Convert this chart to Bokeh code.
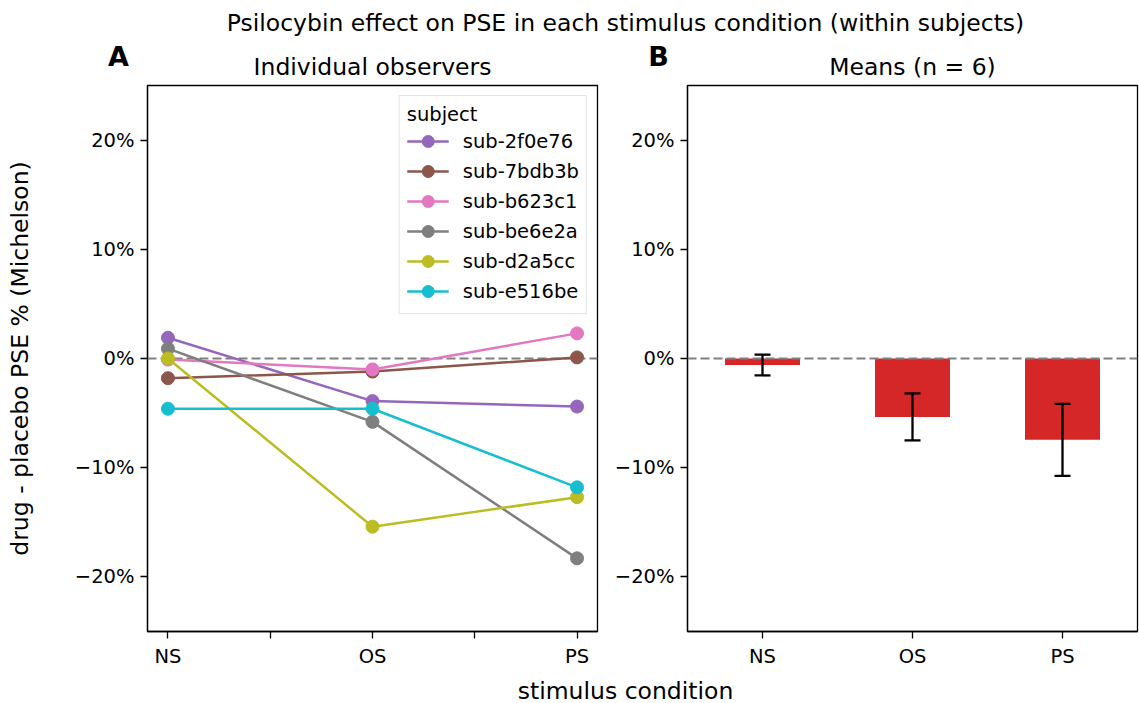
from bokeh.plotting import figure
from bokeh.layouts import column, row
from bokeh.models import (ColumnDataSource, Span, Whisker, TeeHead, Label,
                          FixedTicker, Range1d)
from bokeh.embed import file_html
from bokeh.resources import INLINE

# ---------------- data ----------------
conditions = ["NS", "OS", "PS"]
cond_pos = [0, 1, 2]
subjects = ["sub-2f0e76", "sub-7bdb3b", "sub-b623c1",
            "sub-be6e2a", "sub-d2a5cc", "sub-e516be"]
subject_colors = ["#9467bd", "#8c564b", "#e377c2",
                  "#7f7f7f", "#bcbd22", "#17becf"]
sub_2f0e76 = [1.9, -3.9, -4.4]
sub_7bdb3b = [-1.8, -1.2, 0.1]
sub_b623c1 = [-0.1, -1.0, 2.3]
sub_be6e2a = [0.9, -5.8, -18.3]
sub_d2a5cc = [0.0, -15.4, -12.7]
sub_e516be = [-4.6, -4.6, -11.8]
subject_values = [sub_2f0e76, sub_7bdb3b, sub_b623c1,
                  sub_be6e2a, sub_d2a5cc, sub_e516be]

mean_values = [-0.6, -5.35, -7.45]
ci_low = [-1.55, -7.5, -10.75]
ci_high = [0.35, -3.2, -4.15]

y_ticks = [-20, -10, 0, 10, 20]
y_tick_labels = {-20: "\u221220%", -10: "\u221210%", 0: "0%", 10: "10%", 20: "20%"}

FONT = "DejaVu Sans"
TICK_SIZE = "19.5px"
TITLE_SIZE = "23.5px"


def style_panel(p):
    p.toolbar_location = None
    p.grid.visible = False
    p.outline_line_color = "black"
    p.outline_line_width = 1.3
    for ax in (p.xaxis[0], p.yaxis[0]):
        ax.axis_line_color = "black"
        ax.axis_line_width = 1.3
        ax.major_tick_line_color = "black"
        ax.major_tick_line_width = 1.3
        ax.major_tick_out = 7
        ax.major_tick_in = 0
        ax.minor_tick_line_color = None
        ax.major_label_text_font = FONT
        ax.major_label_text_font_size = TICK_SIZE
        ax.major_label_text_color = "black"
        ax.major_label_standoff = 6
    p.yaxis[0].ticker = FixedTicker(ticks=y_ticks)
    p.yaxis[0].major_label_overrides = y_tick_labels


# ---------------- header ----------------
header = figure(width=1139, height=80, x_range=Range1d(0, 1139), y_range=Range1d(80, 0),
                x_axis_location=None, y_axis_location=None, toolbar_location=None,
                min_border=0, output_backend="svg", title=None)
header.grid.visible = False
header.outline_line_color = None
header.add_layout(Label(x=625, y=22, text="Psilocybin effect on PSE in each stimulus condition (within subjects)",
                        text_font=FONT, text_font_size=TITLE_SIZE, text_align="center",
                        text_baseline="middle", text_color="black"))
header.add_layout(Label(x=118, y=56, text="A", text_font=FONT, text_font_size="27px",
                        text_font_style="bold", text_align="center", text_baseline="middle",
                        text_color="black"))
header.add_layout(Label(x=658, y=56, text="B", text_font=FONT, text_font_size="27px",
                        text_font_style="bold", text_align="center", text_baseline="middle",
                        text_color="black"))
header.add_layout(Label(x=372, y=66, text="Individual observers", text_font=FONT,
                        text_font_size=TITLE_SIZE, text_align="center", text_baseline="middle",
                        text_color="black"))
header.add_layout(Label(x=912, y=66, text="Means (n = 6)", text_font=FONT,
                        text_font_size=TITLE_SIZE, text_align="center", text_baseline="middle",
                        text_color="black"))

# ---------------- panel A ----------------
pa = figure(width=609, height=590, x_range=Range1d(-0.1, 2.1), y_range=Range1d(-25, 25),
            min_border_left=147, min_border_right=12, min_border_top=5, min_border_bottom=39,
            toolbar_location=None, output_backend="svg", title=None)
style_panel(pa)
pa.xaxis[0].ticker = FixedTicker(ticks=[0, 0.5, 1, 1.5, 2])
pa.xaxis[0].major_label_overrides = {0: "NS", 0.5: "", 1: "OS", 1.5: "", 2: "PS"}
pa.yaxis[0].axis_label = "drug - placebo PSE % (Michelson)"
pa.yaxis[0].axis_label_text_font = FONT
pa.yaxis[0].axis_label_text_font_size = TITLE_SIZE
pa.yaxis[0].axis_label_text_font_style = "normal"
pa.yaxis[0].axis_label_text_color = "black"
pa.yaxis[0].axis_label_standoff = 38

pa.add_layout(Span(location=0, dimension="width", line_color="#808080",
                   line_dash="9 4", line_width=2.2, level="underlay"))

for name, col, vals in zip(subjects, subject_colors, subject_values):
    src = ColumnDataSource(dict(x=cond_pos, y=vals))
    pa.line("x", "y", source=src, line_color=col, line_width=2.5, legend_label=name)
    pa.scatter("x", "y", source=src, size=13, fill_color=col, line_color=col,
               legend_label=name)

lg = pa.legend[0]
lg.location = "top_right"
lg.title = "subject"
lg.title_text_font = FONT
lg.title_text_font_size = TICK_SIZE
lg.title_text_font_style = "normal"
lg.title_text_color = "black"
lg.label_text_font = FONT
lg.label_text_font_size = TICK_SIZE
lg.label_text_color = "black"
lg.glyph_width = 42
lg.glyph_height = 30
lg.label_height = 30
lg.label_standoff = 14
lg.spacing = 0
lg.padding = 7
lg.margin = 10
lg.title_standoff = 0
lg.border_line_color = "#cccccc"
lg.border_line_width = 1.3
lg.background_fill_alpha = 0.85

# ---------------- panel B ----------------
pb = figure(width=530, height=590, x_range=Range1d(-0.5, 2.5), y_range=Range1d(-25, 25),
            min_border_left=78, min_border_right=2, min_border_top=5, min_border_bottom=39,
            toolbar_location=None, output_backend="svg", title=None)
style_panel(pb)
pb.xaxis[0].ticker = FixedTicker(ticks=cond_pos)
pb.xaxis[0].major_label_overrides = {0: "NS", 1: "OS", 2: "PS"}

bsrc = ColumnDataSource(dict(x=cond_pos, top=mean_values, lower=ci_low, upper=ci_high))
pb.vbar(x="x", top="top", bottom=0, width=0.5, source=bsrc,
        fill_color="#d62728", line_color=None)
pb.add_layout(Whisker(source=bsrc, base="x", upper="upper", lower="lower",
                      line_color="black", line_width=2.3, level="overlay",
                      upper_head=TeeHead(size=16, line_color="black", line_width=2.3),
                      lower_head=TeeHead(size=16, line_color="black", line_width=2.3)))
pb.add_layout(Span(location=0, dimension="width", line_color="#808080",
                   line_dash="9 4", line_width=2.2))

# ---------------- footer ----------------
footer = figure(width=1139, height=33, x_range=Range1d(0, 1139), y_range=Range1d(33, 0),
                x_axis_location=None, y_axis_location=None, toolbar_location=None,
                min_border=0, output_backend="svg", title=None)
footer.grid.visible = False
footer.outline_line_color = None
footer.add_layout(Label(x=625, y=20, text="stimulus condition", text_font=FONT,
                        text_font_size=TITLE_SIZE, text_align="center", text_baseline="middle",
                        text_color="black"))

layout = column(header, row(pa, pb), footer)
open("out.html", "w").write(file_html(layout, INLINE))
